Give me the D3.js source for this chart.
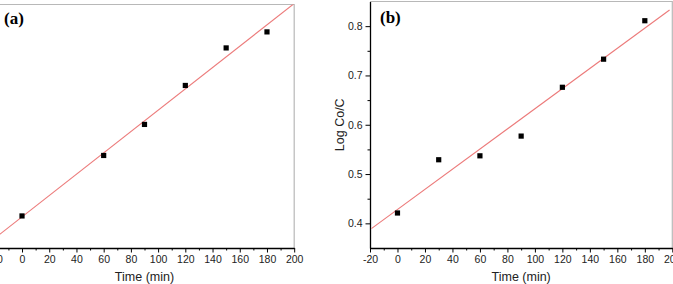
<!DOCTYPE html>
<html>
<head>
<meta charset="utf-8">
<script src="https://cdn.jsdelivr.net/npm/d3@7"></script>
<style>
  body { margin: 0; background: #fff; }
  svg { display: block; }
  .tick text { font-family: "Liberation Sans", Arial, sans-serif; font-size: 10.5px; fill: #222; }
  .title { font-family: "Liberation Sans", Arial, sans-serif; font-size: 12.5px; fill: #222; }
  .panel { font-family: "Liberation Serif", "Times New Roman", serif; font-size: 17px; font-weight: bold; }
</style>
</head>
<body>
<div id="chart"></div>
<script>
// data
var timeA = [0, 60, 90, 120, 150, 180];
var valueA = [0.358, 0.656, 0.809, 1.001, 1.186, 1.265];
var timeB = [0, 30, 60, 90, 120, 150, 180];
var valueB = [0.421, 0.529, 0.537, 0.577, 0.676, 0.733, 0.811];
var xTicks = [-20, 0, 20, 40, 60, 80, 100, 120, 140, 160, 180, 200];
var xMinor = [-10, 10, 30, 50, 70, 90, 110, 130, 150, 170, 190];
var yTicksB = [0.4, 0.5, 0.6, 0.7, 0.8];
var yMinorB = [0.45, 0.55, 0.65, 0.75];
var fitSpanA = [-25, 200];
var fitSpanB = [-19, 198];

var svg = d3.select("#chart")
  .append("svg")
  .attr("width", 673)
  .attr("height", 284);

// least squares fit
function fit(xs, ys) {
  var mx = d3.mean(xs), my = d3.mean(ys);
  var sxy = d3.sum(xs, (x, i) => (x - mx) * (ys[i] - my));
  var sxx = d3.sum(xs, x => (x - mx) * (x - mx));
  var b = sxy / sxx;
  return { a: my - b * mx, b: b };
}

function drawPanel(opt) {
  var x = d3.scaleLinear().domain([-20, 200]).range([opt.left, opt.right]);
  var y = d3.scaleLinear().domain(opt.yDomain).range([opt.bottom, opt.top]);
  var g = svg.append("g");

  // clip for the plot area
  var clipId = "clip" + opt.id;
  g.append("clipPath").attr("id", clipId)
    .append("rect")
    .attr("x", opt.left).attr("y", opt.top)
    .attr("width", opt.right - opt.left).attr("height", opt.bottom - opt.top);

  // gray top and right frame
  g.append("path")
    .attr("d", "M" + opt.left + "," + opt.top + "H" + opt.right + "V" + opt.bottom)
    .attr("fill", "none")
    .attr("stroke", "#b8b8b8")
    .attr("stroke-width", 1.2);

  // x axis, minor ticks then major
  g.append("g")
    .attr("transform", "translate(0," + opt.bottom + ")")
    .call(d3.axisBottom(x).tickValues(xMinor).tickSize(2.5).tickSizeOuter(0).tickFormat(""))
    .call(a => a.select(".domain").remove());
  g.append("g")
    .attr("transform", "translate(0," + opt.bottom + ")")
    .call(d3.axisBottom(x).tickValues(xTicks).tickSize(4.5).tickSizeOuter(0).tickPadding(3)
      .tickFormat(d => String(d)))
    .call(a => a.select(".domain").attr("stroke-width", 1.3));

  g.append("text")
    .attr("class", "title")
    .attr("x", (opt.left + opt.right) / 2)
    .attr("y", 281)
    .attr("text-anchor", "middle")
    .text("Time (min)");

  // y axis
  if (opt.yTicks) {
    g.append("g")
      .attr("transform", "translate(" + opt.left + ",0)")
      .call(d3.axisLeft(y).tickValues(yMinorB).tickSize(2.5).tickSizeOuter(0).tickFormat(""))
      .call(a => a.select(".domain").remove());
    g.append("g")
      .attr("transform", "translate(" + opt.left + ",0)")
      .call(d3.axisLeft(y).tickValues(opt.yTicks).tickSize(4.5).tickSizeOuter(0).tickPadding(3)
        .tickFormat(d => d.toFixed(1)))
      .call(a => a.select(".domain").attr("stroke-width", 1.3));
    g.append("text")
      .attr("class", "title")
      .attr("transform", "translate(" + (opt.left - 26) + "," + ((opt.top + opt.bottom) / 2) + ") rotate(-90)")
      .attr("text-anchor", "middle")
      .text(opt.yLabel);
  }

  // fitted line
  var f = fit(opt.xs, opt.ys);
  g.append("line")
    .attr("clip-path", "url(#" + clipId + ")")
    .attr("x1", x(opt.span[0])).attr("y1", y(f.a + f.b * opt.span[0]))
    .attr("x2", x(opt.span[1])).attr("y2", y(f.a + f.b * opt.span[1]))
    .attr("stroke", "#ec7a7a")
    .attr("stroke-width", 1.1);

  // points
  g.append("g")
    .selectAll("rect")
    .data(opt.xs)
    .enter()
    .append("rect")
    .attr("x", (d, i) => x(d) - 2.6)
    .attr("y", (d, i) => y(opt.ys[i]) - 2.6)
    .attr("width", 5.2)
    .attr("height", 5.2)
    .attr("fill", "#000");

  g.append("text")
    .attr("class", "panel")
    .attr("x", opt.labelX)
    .attr("y", opt.labelY)
    .text(opt.name);
}

drawPanel({
  id: "a", name: "(a)", left: -5.2, right: 294.2, top: 4.5, bottom: 248,
  yDomain: [0.2, 1.4], xs: timeA, ys: valueA, span: fitSpanA,
  labelX: 4, labelY: 24
});

drawPanel({
  id: "b", name: "(b)", left: 370, right: 672.3, top: 1.5, bottom: 248,
  yDomain: [0.35, 0.85], xs: timeB, ys: valueB, span: fitSpanB,
  yTicks: yTicksB, yLabel: "Log Co/C",
  labelX: 380, labelY: 23
});
</script>
</body>
</html>
